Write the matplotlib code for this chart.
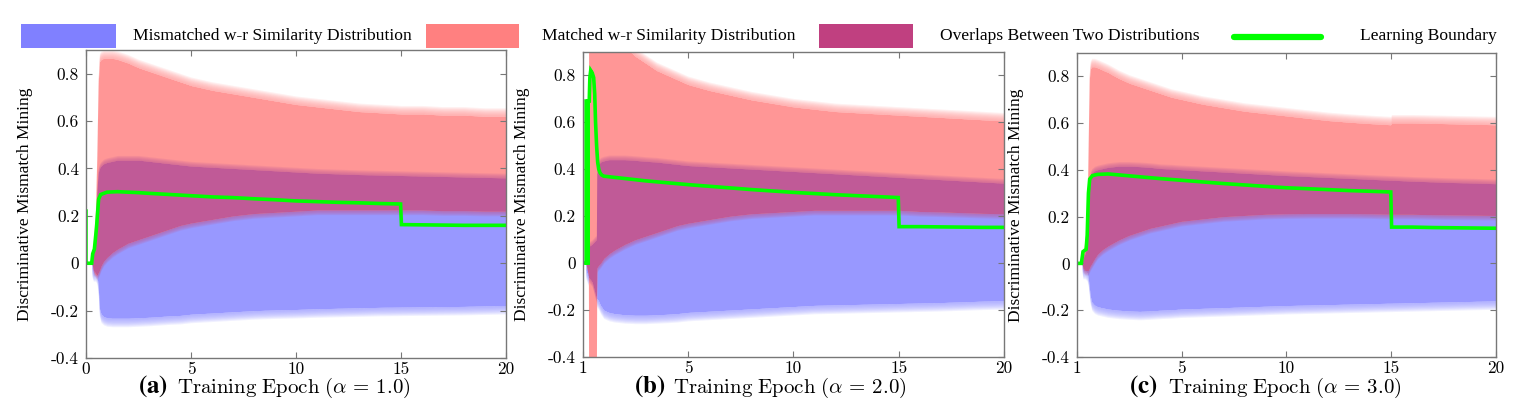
import numpy as np
import matplotlib
matplotlib.use('Agg')
import matplotlib.pyplot as plt
from matplotlib.patches import Rectangle
from matplotlib.lines import Line2D

plt.rcParams['mathtext.fontset'] = 'cm'

# ---------------- data ----------------
panel_letters = ['a', 'b', 'c']
alphas = ['1.0', '2.0', '3.0']
xtick_values = [0, 5, 10, 15, 20]
xtick_labels_a = ['0', '5', '10', '15', '20']
xtick_labels_bc = ['1', '5', '10', '15', '20']
ytick_values = [-0.4, -0.2, 0, 0.2, 0.4, 0.6, 0.8]
ytick_labels = ['-0.4', '-0.2', '0', '0.2', '0.4', '0.6', '0.8']
legend_labels = ['Mismatched w-r Similarity Distribution', 'Matched w-r Similarity Distribution',
                 'Overlaps Between Two Distributions', 'Learning Boundary']

# panel (a)
xa = [0.28, 0.35, 0.45, 0.52, 0.58, 0.64, 0.72, 0.85, 1.0, 1.25, 1.5, 2.0, 2.5, 3.0, 3.5, 4.0, 4.5, 5.0,
      6, 7, 8, 9, 10, 11, 12, 13, 14, 15, 16, 17, 18, 19, 20]
mis_lo_a = [-0.02, -0.04, -0.04, -0.05, -0.09, -0.19, -0.215, -0.225, -0.23, -0.232, -0.232, -0.232, -0.23,
            -0.228, -0.225, -0.222, -0.22, -0.215, -0.21, -0.205, -0.2, -0.197, -0.195, -0.192, -0.19,
            -0.188, -0.186, -0.185, -0.184, -0.183, -0.182, -0.18, -0.178]
mis_hi_a = [0.02, 0.04, 0.12, 0.3, 0.38, 0.4, 0.41, 0.42, 0.425, 0.43, 0.435, 0.435, 0.435, 0.43, 0.425,
            0.42, 0.415, 0.41, 0.405, 0.4, 0.395, 0.39, 0.385, 0.38, 0.377, 0.374, 0.372, 0.37, 0.368,
            0.366, 0.364, 0.362, 0.36]
mat_lo_a = [0.0, -0.03, -0.05, -0.05, -0.04, -0.03, -0.01, 0.01, 0.025, 0.045, 0.06, 0.085, 0.1, 0.115,
            0.13, 0.145, 0.16, 0.17, 0.185, 0.2, 0.21, 0.215, 0.22, 0.225, 0.225, 0.225, 0.225, 0.225,
            0.225, 0.222, 0.222, 0.22, 0.22]
mat_hi_a = [0.0, 0.06, 0.2, 0.45, 0.75, 0.85, 0.86, 0.865, 0.865, 0.865, 0.86, 0.845, 0.825, 0.81, 0.795,
            0.78, 0.765, 0.75, 0.73, 0.715, 0.7, 0.685, 0.67, 0.66, 0.65, 0.64, 0.635, 0.63, 0.63, 0.625,
            0.625, 0.62, 0.62]
bx_a = [0.0, 0.0, 0.27, 0.32, 0.4, 0.5, 0.6, 0.7, 0.85, 1.0, 1.5, 2.0, 2.5, 3, 4, 5, 6, 7, 8, 9, 10, 11, 12,
        13, 14, 14.98, 15.02, 16, 17, 18, 19, 20]
bv_a = [0.22, 0.0, 0.0, 0.04, 0.06, 0.15, 0.27, 0.29, 0.295, 0.3, 0.302, 0.3, 0.298, 0.295, 0.29, 0.285,
        0.28, 0.277, 0.272, 0.268, 0.263, 0.26, 0.257, 0.255, 0.252, 0.25, 0.163, 0.162, 0.161, 0.16,
        0.16, 0.16]

# panel (b)
xb = [0.15, 0.27, 0.28, 0.45, 0.65, 0.67, 0.75, 0.85, 1.0, 1.25, 1.5, 2.0, 2.5, 3.0, 3.5, 4.0, 4.5, 5.0,
      6, 7, 8, 9, 10, 11, 12, 13, 14, 15, 16, 17, 18, 19, 20]
mis_lo_b = [-0.03, -0.06, -0.06, -0.08, -0.15, -0.15, -0.16, -0.18, -0.2, -0.21, -0.215, -0.22, -0.222,
            -0.222, -0.22, -0.218, -0.215, -0.21, -0.205, -0.2, -0.195, -0.19, -0.185, -0.18, -0.178,
            -0.176, -0.174, -0.172, -0.17, -0.168, -0.165, -0.162, -0.16]
mis_hi_b = [0.03, 0.07, 0.07, 0.08, 0.1, 0.38, 0.42, 0.43, 0.435, 0.44, 0.44, 0.44, 0.437, 0.433, 0.43,
            0.425, 0.42, 0.415, 0.41, 0.405, 0.4, 0.395, 0.39, 0.385, 0.38, 0.375, 0.37, 0.365, 0.36,
            0.355, 0.35, 0.345, 0.34]
mat_lo_b = [0.0, -0.05, -0.45, -0.45, -0.45, -0.02, -0.01, 0.0, 0.02, 0.04, 0.055, 0.08, 0.1, 0.115, 0.13,
            0.145, 0.16, 0.17, 0.185, 0.2, 0.21, 0.215, 0.22, 0.225, 0.225, 0.225, 0.225, 0.225, 0.22,
            0.218, 0.215, 0.212, 0.21]
mat_hi_b = [0.0, 0.05, 0.95, 0.95, 0.95, 0.95, 0.95, 0.95, 0.95, 0.95, 0.95, 0.92, 0.88, 0.85, 0.82, 0.8,
            0.78, 0.76, 0.735, 0.715, 0.695, 0.68, 0.665, 0.655, 0.645, 0.64, 0.635, 0.63, 0.625, 0.62,
            0.615, 0.61, 0.605]
bx_b = [0.0, 0.16, 0.16, 0.21, 0.21, 0.26, 0.26, 0.31, 0.34, 0.38, 0.45, 0.52, 0.57, 0.61, 0.66, 0.71,
        0.76, 0.82, 0.9, 1.0, 1.5, 2, 3, 4, 5, 6, 7, 8, 9, 10, 11, 12, 13, 14, 14.98, 15.02, 16, 17, 18,
        19, 20]
bv_b = [0.0, 0.0, 0.69, 0.69, 0.0, 0.0, 0.69, 0.69, 0.79, 0.82, 0.81, 0.79, 0.72, 0.6, 0.5, 0.43, 0.4,
        0.385, 0.375, 0.37, 0.365, 0.36, 0.35, 0.342, 0.334, 0.327, 0.32, 0.313, 0.307, 0.301, 0.296,
        0.291, 0.287, 0.283, 0.279, 0.155, 0.155, 0.154, 0.153, 0.152, 0.152]

# panel (c)
xc = [0.25, 0.3, 0.4, 0.5, 0.55, 0.6, 0.65, 0.72, 0.85, 1.0, 1.25, 1.5, 2.0, 2.5, 3.0, 3.5, 4.0, 4.5, 5.0,
      6, 7, 8, 9, 10, 11, 12, 13, 14, 14.98, 15.02, 16, 17, 18, 19, 20]
mis_lo_c = [0.0, -0.03, -0.03, -0.04, -0.06, -0.1, -0.14, -0.165, -0.178, -0.185, -0.19, -0.195, -0.2,
            -0.203, -0.205, -0.203, -0.2, -0.198, -0.195, -0.192, -0.189, -0.186, -0.183, -0.18, -0.178,
            -0.176, -0.174, -0.172, -0.17, -0.17, -0.168, -0.166, -0.164, -0.162, -0.16]
mis_hi_c = [0.0, 0.02, 0.04, 0.08, 0.15, 0.3, 0.37, 0.385, 0.395, 0.4, 0.405, 0.41, 0.415, 0.415, 0.413,
            0.41, 0.405, 0.403, 0.4, 0.395, 0.39, 0.385, 0.38, 0.375, 0.371, 0.367, 0.363, 0.359, 0.355,
            0.355, 0.351, 0.348, 0.345, 0.343, 0.34]
mat_lo_c = [0.0, -0.02, -0.03, -0.03, -0.03, -0.02, -0.01, 0.0, 0.02, 0.04, 0.06, 0.075, 0.1, 0.12, 0.135,
            0.15, 0.16, 0.17, 0.18, 0.19, 0.2, 0.205, 0.21, 0.212, 0.213, 0.213, 0.213, 0.212, 0.21, 0.21,
            0.21, 0.208, 0.207, 0.206, 0.205]
mat_hi_c = [0.0, 0.03, 0.06, 0.2, 0.5, 0.78, 0.83, 0.84, 0.84, 0.835, 0.825, 0.815, 0.79, 0.77, 0.755,
            0.74, 0.725, 0.71, 0.7, 0.68, 0.665, 0.65, 0.64, 0.63, 0.62, 0.61, 0.603, 0.597, 0.592, 0.6,
            0.6, 0.598, 0.596, 0.594, 0.592]
bx_c = [0.0, 0.22, 0.27, 0.3, 0.45, 0.5, 0.56, 0.62, 0.75, 1.0, 1.5, 2, 3, 4, 5, 6, 7, 8, 9, 10, 11, 12, 13,
        14, 14.98, 15.02, 16, 17, 18, 19, 20]
bv_c = [0.0, 0.0, 0.03, 0.05, 0.06, 0.12, 0.3, 0.36, 0.375, 0.38, 0.382, 0.378, 0.37, 0.362, 0.355, 0.348,
        0.341, 0.335, 0.329, 0.323, 0.319, 0.315, 0.311, 0.308, 0.305, 0.155, 0.155, 0.153, 0.152, 0.151,
        0.15]

panels = [
    (xa, mis_lo_a, mis_hi_a, mat_lo_a, mat_hi_a, bx_a, bv_a, xtick_labels_a),
    (xb, mis_lo_b, mis_hi_b, mat_lo_b, mat_hi_b, bx_b, bv_b, xtick_labels_bc),
    (xc, mis_lo_c, mis_hi_c, mat_lo_c, mat_hi_c, bx_c, bv_c, xtick_labels_bc),
]

# ---------------- style ----------------
W, H = 1519, 418
BLUE, RED, PURPLE, GREEN = '#9898FF', '#FF9696', '#C05A97', '#00FF00'
LEG_BLUE, LEG_RED, LEG_PURPLE = '#8080FF', '#FF8080', '#C04080'
SERIF = ['Liberation Serif', 'DejaVu Serif']
FRAME = '#777777'

fig = plt.figure(figsize=(W / 100, H / 100), dpi=100)


def fx(px):
    return px / W


def fy(py):
    return 1 - py / H


boxes = [(86, 50, 506, 358), (582.7, 51.7, 1004, 357), (1076.7, 52.7, 1496, 357)]
label_pos = [(168, 177), (665, 673), (1158, 1168)]


def fuzzy(ax, x, base, sign, color, n=8, step=0.0045, a=0.14, where=None):
    for k in range(1, n + 1):
        ax.fill_between(x, base, base + sign * k * step, where=where, color=color, alpha=a, lw=0)


for i, (x, mlo, mhi, rlo, rhi, bx, bv, xtl) in enumerate(panels):
    l, t, r, b = boxes[i]
    ax = fig.add_axes([fx(l), fy(b), (r - l) / W, (b - t) / H])
    x = np.array(x)
    mlo, mhi, rlo, rhi = map(np.array, (mlo, mhi, rlo, rhi))

    # mismatched band
    ax.fill_between(x, mlo, mhi, color=BLUE, lw=0)
    fuzzy(ax, x, mlo, -1, BLUE)
    # matched band
    ax.fill_between(x, rlo, rhi, color=RED, lw=0)
    fuzzy(ax, x, rhi, +1, RED)
    # overlap = intersection of the two ranges
    olo = np.maximum(mlo, rlo)
    ohi = np.minimum(mhi, rhi)
    ov = ohi > olo
    ax.fill_between(x, olo, ohi, where=ov, interpolate=True, color=PURPLE, lw=0)
    fuzzy(ax, x, ohi, +1, PURPLE, n=5, step=0.004, a=0.16, where=ov)
    fuzzy(ax, x, olo, -1, PURPLE, n=5, step=0.004, a=0.16, where=ov)
    # learning boundary
    ax.plot(bx, bv, color=GREEN, lw=2.6, solid_joinstyle='miter')

    ax.set_xlim(0, 20)
    ax.set_ylim(-0.4, 0.9)
    ax.set_xticks(xtick_values)
    ax.set_xticklabels(xtl, fontfamily='cmr10', fontsize=12.5)
    ax.set_yticks(ytick_values)
    ax.set_yticklabels(ytick_labels, fontfamily='cmr10', fontsize=12.5)
    ax.tick_params(axis='both', direction='in', top=True, right=True, length=4, width=0.8,
                   color=FRAME)
    ax.tick_params(axis='x', pad=3)
    ax.tick_params(axis='y', pad=5)
    for s in ax.spines.values():
        s.set_color(FRAME)
        s.set_linewidth(1.0)
    ax.set_ylabel('Discriminative Mismatch Mining', fontfamily=SERIF, fontsize=12.5)
    ax.yaxis.set_label_coords(-53 / (r - l), 0.5)

    lx, tx = label_pos[i]
    fig.text(fx(lx), fy(393), r'$\mathbf{(%s)}$' % panel_letters[i], ha='right', va='baseline',
             fontsize=18, math_fontfamily='stix')
    fig.text(fx(tx), fy(393), r'$\mathrm{Training\ Epoch}\ (\alpha\,=\,%s)$' % alphas[i],
             ha='left', va='baseline', fontsize=15)

# ---------------- legend ----------------
patches = [(21, 116, LEG_BLUE), (426, 519, LEG_RED), (819, 913, LEG_PURPLE)]
for x0, x1, c in patches:
    fig.patches.append(Rectangle((fx(x0), fy(48)), (x1 - x0) / W, 24 / H,
                                 transform=fig.transFigure, color=c, lw=0))
fig.lines.append(Line2D([fx(1234), fx(1321)], [fy(37), fy(37)], transform=fig.transFigure,
                        color=GREEN, lw=4.5, solid_capstyle='round'))
text_x = [133, 542, 940, 1360]
for tx, lab in zip(text_x, legend_labels):
    fig.text(fx(tx), fy(36), lab, ha='left', va='center', fontfamily=SERIF, fontsize=12.6)

fig.savefig('out.png', dpi=100)
